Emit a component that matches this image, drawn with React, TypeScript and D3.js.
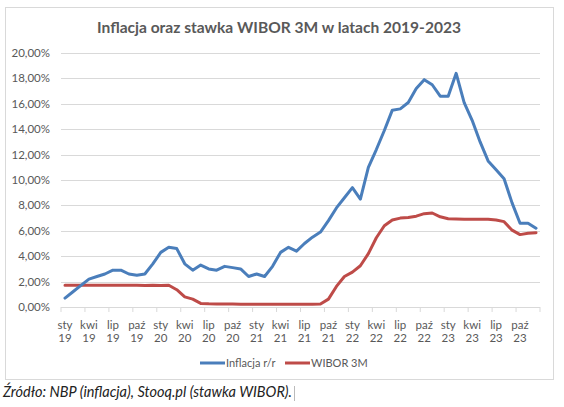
import React from "react";
import * as d3 from "d3";

const months = ["sty", "lut", "mar", "kwi", "maj", "cze", "lip", "sie", "wrz", "paź", "lis", "gru"];
const years = ["19", "20", "21", "22", "23"];
const categories = years.flatMap((y) => months.map((m) => `${m} ${y}`));

const inflation = [
  0.7, 1.2, 1.7, 2.2, 2.4, 2.6, 2.9, 2.9, 2.6, 2.5, 2.6, 3.4,
  4.3, 4.7, 4.6, 3.4, 2.9, 3.3, 3.0, 2.9, 3.2, 3.1, 3.0, 2.4,
  2.6, 2.4, 3.2, 4.3, 4.7, 4.4, 5.0, 5.5, 5.9, 6.8, 7.8, 8.6,
  9.4, 8.5, 11.0, 12.4, 13.9, 15.5, 15.6, 16.1, 17.2, 17.9, 17.5, 16.6,
  16.6, 18.4, 16.1, 14.7, 13.0, 11.5, 10.8, 10.1, 8.2, 6.6, 6.6, 6.2,
];

const wibor = [
  1.72, 1.72, 1.72, 1.72, 1.72, 1.72, 1.72, 1.72, 1.72, 1.71, 1.70, 1.71,
  1.70, 1.71, 1.36, 0.8, 0.62, 0.28, 0.25, 0.24, 0.23, 0.23, 0.22, 0.22,
  0.22, 0.22, 0.22, 0.22, 0.22, 0.22, 0.22, 0.22, 0.23, 0.62, 1.62, 2.4,
  2.75, 3.25, 4.2, 5.45, 6.4, 6.85, 7.0, 7.05, 7.15, 7.35, 7.4, 7.1,
  6.95, 6.92, 6.9, 6.9, 6.9, 6.9, 6.85, 6.72, 6.05, 5.7, 5.8, 5.85,
];

const yTicks = [0, 2, 4, 6, 8, 10, 12, 14, 16, 18, 20];
const seriesNames = ["Inflacja r/r", "WIBOR 3M"];
const seriesColors = ["#4a7ebb", "#be4b48"];
const title = "Inflacja oraz stawka WIBOR 3M w latach 2019-2023";
const source = "Źródło: NBP (inflacja), Stooq.pl (stawka WIBOR).";

const FONT = "Lato, 'Open Sans', sans-serif";

export default function App() {
  const W = 564, H = 407;
  const plotL = 61, plotR = 540, plotT = 53, plotB = 307;

  const x = d3.scaleBand<number>().domain(d3.range(categories.length)).range([plotL, plotR]).padding(0);
  const cx = (i: number) => (x(i) as number) + x.bandwidth() / 2;
  const y = d3.scaleLinear().domain([0, 20]).range([plotB, plotT]);

  const line = d3.line<number>().x((_, i) => cx(i)).y((d) => y(d)).curve(d3.curveLinear);

  const labelIdx = d3.range(0, categories.length, 3);
  const tickIdx = d3.range(0, categories.length + 1, 3);

  return (
    <svg width={W} height={H} style={{ position: "absolute", left: 0, top: 0, background: "#fff" }}>
      <rect x={0} y={0} width={W} height={H} fill="#fff" />
      <rect x={5.5} y={7.5} width={548} height={372} fill="#fff" stroke="#d9d9d9" strokeWidth={1} />
      <text x={97} y={33} textLength={364} lengthAdjust="spacingAndGlyphs" fontFamily={FONT} fontWeight={700} fontSize={15.5} fill="#595959">
        {title}
      </text>
      {yTicks.map((t) => (
        <g key={t}>
          <line x1={plotL} x2={plotR} y1={Math.round(y(t)) + 0.5} y2={Math.round(y(t)) + 0.5} stroke="#d9d9d9" strokeWidth={1} />
          <text x={50} y={y(t) + 4} textAnchor="end" fontFamily={FONT} fontSize={11.5} fill="#595959">
            {d3.format(".2f")(t).replace(".", ",") + "%"}
          </text>
        </g>
      ))}
      {tickIdx.map((i) => {
        const xx = i < categories.length ? (x(i) as number) : plotR;
        return <line key={i} x1={xx} x2={xx} y1={plotB} y2={plotB + 5} stroke="#d9d9d9" strokeWidth={1} />;
      })}
      {labelIdx.map((i) => {
        const [m, yr] = categories[i].split(" ");
        return (
          <text key={i} x={cx(i)} textAnchor="middle" fontFamily={FONT} fontSize={11.5} fill="#595959">
            <tspan x={cx(i)} y={329}>{m}</tspan>
            <tspan x={cx(i)} y={342}>{yr}</tspan>
          </text>
        );
      })}
      <path d={line(wibor) || ""} fill="none" stroke={seriesColors[1]} strokeWidth={3} strokeLinejoin="round" strokeLinecap="round" />
      <path d={line(inflation) || ""} fill="none" stroke={seriesColors[0]} strokeWidth={3} strokeLinejoin="round" strokeLinecap="round" />
      {seriesNames.map((n, k) => {
        const lx = k === 0 ? 200 : 285;
        return (
          <g key={n}>
            <line x1={lx} x2={lx + 25} y1={363} y2={363} stroke={seriesColors[k]} strokeWidth={3} />
            <text x={lx + 26} y={367} fontFamily={FONT} fontSize={11} fill="#595959">{n}</text>
          </g>
        );
      })}
      <text x={3} y={397} textLength={289} lengthAdjust="spacingAndGlyphs" fontFamily={FONT} fontStyle="italic" fontSize={14.5} fill="#222">{source}</text>
      <line x1={294.5} x2={294.5} y1={386} y2={401} stroke="#bbb" strokeWidth={1} />
    </svg>
  );
}
